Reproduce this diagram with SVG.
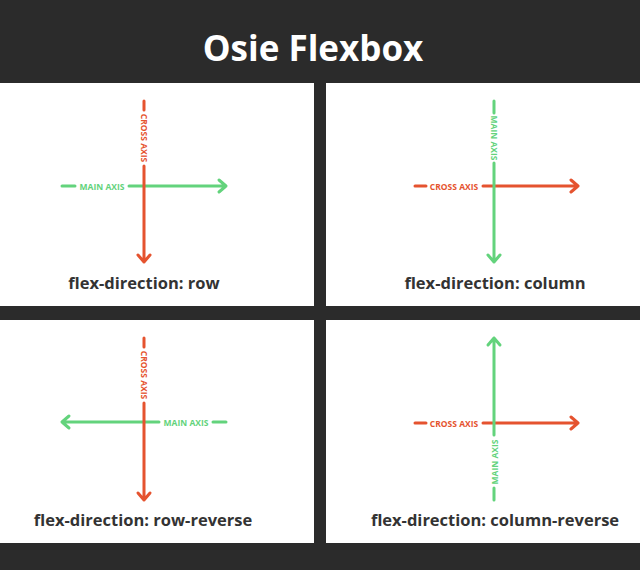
<svg xmlns="http://www.w3.org/2000/svg" width="640" height="570" viewBox="0 0 640 570">
<style>
.p{fill:#fff}
.r{stroke:#e5532f;stroke-width:3;fill:none;stroke-linecap:round;stroke-linejoin:round}
.g{stroke:#63d37c;stroke-width:3;fill:none;stroke-linecap:round;stroke-linejoin:round}
.lr{fill:#e5532f;font-family:"Open Sans","Liberation Sans",sans-serif;font-size:8.5px;font-weight:bold;text-anchor:middle;dominant-baseline:central}
.lg{fill:#63d37c;font-family:"Open Sans","Liberation Sans",sans-serif;font-size:8.5px;font-weight:bold;text-anchor:middle;dominant-baseline:central}
.cap{fill:#333;font-family:"Open Sans","Liberation Sans",sans-serif;font-size:16.5px;font-weight:bold;text-anchor:middle}
</style>
<rect width="640" height="570" fill="#2b2b2b"/>
<text x="313" y="61" fill="#fff" font-family="'Open Sans','Liberation Sans',sans-serif" font-size="35" font-weight="bold" text-anchor="middle">Osie Flexbox</text>
<g id="row">
<rect class="p" x="0" y="83" width="314" height="223"/>
<path class="g" d="M62 186H75M129 186H226M219 180l7 6-7 6"/>
<text class="lg" x="102" y="186">MAIN AXIS</text>
<path class="r" d="M144 101V110M144 166V262M138 255l6 7 6-7"/>
<text class="lr" transform="translate(144 138) rotate(90)">CROSS AXIS</text>
<text class="cap" x="144" y="289">flex-direction: row</text>
</g>
<g id="column">
<rect class="p" x="326" y="83" width="314" height="223"/>
<path class="r" d="M415 186H426M483 186H578M571 180l7 6-7 6"/>
<text class="lr" x="454" y="186">CROSS AXIS</text>
<path class="g" d="M494 101V113M494 163V262M488 255l6 7 6-7"/>
<text class="lg" transform="translate(494 138) rotate(90)">MAIN AXIS</text>
<text class="cap" x="495" y="289">flex-direction: column</text>
</g>
<g id="row-reverse">
<rect class="p" x="0" y="320" width="314" height="223"/>
<path class="g" d="M62 422H159M213 422H226M69 416l-7 6 7 6"/>
<text class="lg" x="186" y="422">MAIN AXIS</text>
<path class="r" d="M144 338V347M144 403V500M138 493l6 7 6-7"/>
<text class="lr" transform="translate(144 375) rotate(90)">CROSS AXIS</text>
<text class="cap" x="143" y="526">flex-direction: row-reverse</text>
</g>
<g id="column-reverse">
<rect class="p" x="326" y="320" width="314" height="223"/>
<path class="r" d="M415 423H426M483 423H578M571 417l7 6-7 6"/>
<text class="lr" x="454" y="423">CROSS AXIS</text>
<path class="g" d="M494 338V435M494 488V500M488 345l6-7 6 7"/>
<text class="lg" transform="translate(494 462) rotate(-90)">MAIN AXIS</text>
<text class="cap" x="495" y="526">flex-direction: column-reverse</text>
</g>
</svg>
